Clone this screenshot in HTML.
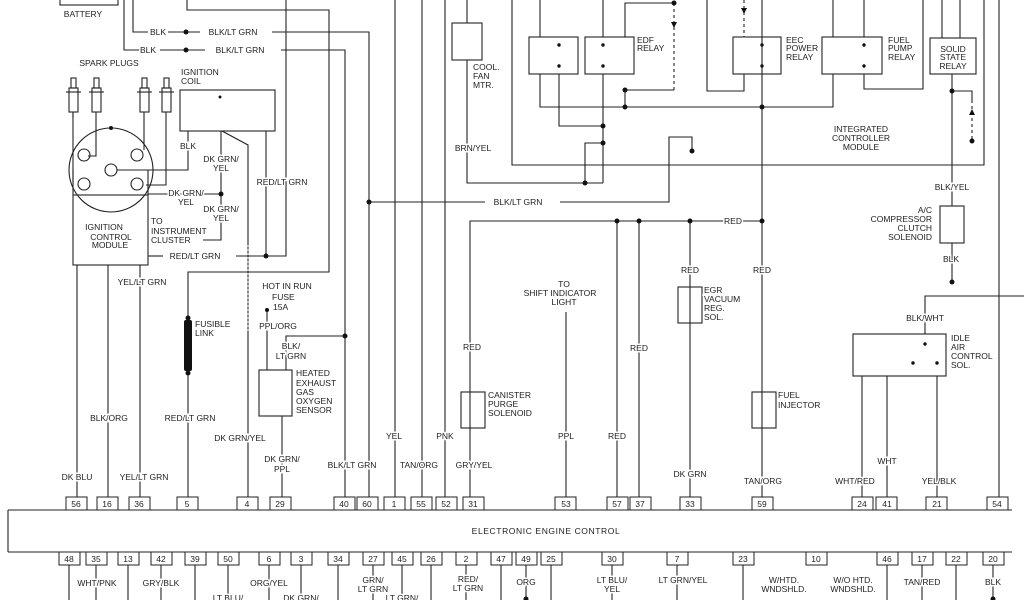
<!DOCTYPE html>
<html><head><meta charset="utf-8"><style>
html,body{margin:0;padding:0;background:#fff;width:1024px;height:600px;overflow:hidden}
svg{display:block}
text{font-family:"Liberation Sans",sans-serif;font-size:8.5px;fill:#222;stroke:#fff;stroke-width:3px;paint-order:stroke;text-anchor:middle}
.s{text-anchor:start}
.e{text-anchor:end}
</style></head><body>
<svg width="1024" height="600" viewBox="0 0 1024 600" xmlns="http://www.w3.org/2000/svg">
<g fill="none" stroke="#222" stroke-width="1.1">
<!-- battery -->
<rect x="60" y="-5" width="58" height="10"/>
<polyline points="133,0 133,32 148,32"/><polyline points="124,0 124,50 140,50"/>
<line x1="168" y1="32" x2="200" y2="32"/><polyline points="272,32 369,32 369,497"/>
<line x1="160" y1="50" x2="205" y2="50"/><polyline points="281,50 345,50 345,497"/>
<polyline points="187,0 187,10 329,10 329,272 188,272 188,497"/>
<polyline points="286,0 286,256 236,256"/><line x1="148" y1="256" x2="163" y2="256"/>
<!-- spark plugs -->
<line x1="73" y1="112" x2="73" y2="182"/><polyline points="96,118 96,156 88,156"/>
<polyline points="144,118 144,150"/><polyline points="166,118 166,185 146,185"/>
<circle cx="111" cy="170" r="42"/>
<circle cx="84" cy="155" r="6"/><circle cx="137" cy="155" r="6"/><circle cx="111" cy="170" r="6"/><circle cx="84" cy="184" r="6"/><circle cx="137" cy="184" r="6"/>
<rect x="73" y="195" width="75" height="70"/>
<line x1="73" y1="170" x2="73" y2="195"/><line x1="148" y1="170" x2="148" y2="195"/>
<!-- plugs -->
<g>
<rect x="69" y="88" width="9" height="24"/><rect x="92" y="88" width="9" height="24"/><rect x="140" y="88" width="9" height="24"/><rect x="162" y="88" width="9" height="24"/>
<line x1="66" y1="92" x2="81" y2="92"/><line x1="89" y1="92" x2="104" y2="92"/><line x1="137" y1="92" x2="152" y2="92"/><line x1="159" y1="92" x2="174" y2="92"/>
<rect x="71" y="78" width="5" height="10"/><rect x="94" y="78" width="5" height="10"/><rect x="142" y="78" width="5" height="10"/><rect x="164" y="78" width="5" height="10"/>
<line x1="73" y1="112" x2="73" y2="118"/><line x1="96" y1="112" x2="96" y2="118"/><line x1="144" y1="112" x2="144" y2="118"/><line x1="166" y1="112" x2="166" y2="118"/>
</g>
<!-- coil -->
<rect x="180" y="90" width="95" height="41"/>
<polyline points="188,131 188,170 117,170"/>
<polyline points="221,131 221,240 203,240"/>
<polyline points="222,131 248,145 248,497"/>
<line x1="266" y1="131" x2="266" y2="256"/>
<line x1="148" y1="194" x2="221" y2="194"/>
<!-- ICM bottom wires -->
<line x1="77" y1="265" x2="77" y2="497"/><line x1="108" y1="265" x2="108" y2="497"/><line x1="140" y1="265" x2="140" y2="497"/>
<!-- fuse / sensor -->
<line x1="248" y1="245" x2="248" y2="332" stroke-dasharray="2,2" stroke="#aaa"/>
<line x1="267" y1="310" x2="267" y2="370"/>
<rect x="259" y="370" width="33" height="46"/>
<polyline points="286,370 286,336 345,336"/>
<line x1="282" y1="416" x2="282" y2="497"/>
<!-- middle verticals -->
<line x1="395" y1="0" x2="395" y2="497"/><line x1="422" y1="0" x2="422" y2="497"/><line x1="445" y1="0" x2="445" y2="497"/>
<polyline points="467,0 467,23"/><rect x="452" y="23" width="30" height="37"/>
<polyline points="467,60 467,183 603,183"/>
<polyline points="369,202 485,202"/><polyline points="560,202 669,202 669,137 692,137 692,151"/>
<polyline points="470,497 470,221 762,221"/>
<rect x="461" y="392" width="24" height="36"/>
<line x1="566" y1="312" x2="566" y2="497"/>
<line x1="617" y1="221" x2="617" y2="497"/><line x1="639" y1="221" x2="639" y2="497"/>
<line x1="690" y1="221" x2="690" y2="497"/><rect x="678" y="287" width="24" height="36"/>
<line x1="762" y1="0" x2="762" y2="497"/><rect x="752" y="392" width="24" height="36"/>
<!-- ICM -->
<polyline points="512,0 512,165 984,165 984,0"/>
<rect x="529" y="37" width="49" height="37"/><rect x="585" y="37" width="49" height="37"/>
<rect x="733" y="37" width="48" height="37"/><rect x="822" y="37" width="60" height="37"/>
<rect x="930" y="38" width="46" height="36"/>
<line x1="540" y1="0" x2="540" y2="37"/><line x1="603" y1="0" x2="603" y2="37"/>
<polyline points="625,37 625,3 674,3"/><line x1="674" y1="3" x2="674" y2="90" stroke-dasharray="3,3"/>
<polyline points="674,90 625,90"/>
<polyline points="540,74 540,107 833,107 833,74"/><line x1="625" y1="90" x2="625" y2="107"/>
<polyline points="559,74 559,126 603,126"/><line x1="603" y1="74" x2="603" y2="183"/>
<polyline points="585,183 585,143 603,143"/>
<polyline points="707,0 707,91 744,91 744,74"/><line x1="744" y1="0" x2="744" y2="37" stroke-dasharray="3,3"/>
<line x1="833" y1="0" x2="833" y2="37"/><line x1="864" y1="0" x2="864" y2="37"/>
<polyline points="864,74 864,89 923,89 923,0"/>
<line x1="942" y1="0" x2="942" y2="38"/><line x1="960" y1="0" x2="960" y2="38"/>
<polyline points="952,74 952,206"/><polyline points="952,91 972,91 972,100"/><line x1="972" y1="100" x2="972" y2="141" stroke-dasharray="3,3"/>
<rect x="940" y="206" width="24" height="37"/><line x1="952" y1="243" x2="952" y2="282"/>
<line x1="999" y1="0" x2="999" y2="497"/>
<polyline points="925,334 925,296 1024,296"/>
<rect x="853" y="334" width="93" height="42"/>
<line x1="862" y1="376" x2="862" y2="497"/><line x1="887" y1="376" x2="887" y2="497"/><line x1="937" y1="376" x2="937" y2="497"/>
<!-- ECC -->
<polyline points="8,510 1012,510"/><polyline points="8,552 1012,552"/><line x1="8" y1="510" x2="8" y2="552"/>
</g>
<g fill="#111">
<circle cx="186" cy="32" r="2.5"/><circle cx="186" cy="50" r="2.5"/><circle cx="266" cy="256" r="2.5"/><circle cx="221" cy="194" r="2.5"/>
<circle cx="111" cy="128" r="2"/><circle cx="369" cy="202" r="2.5"/><circle cx="345" cy="336" r="2.5"/><circle cx="267" cy="310" r="2"/>
<circle cx="617" cy="221" r="2.5"/><circle cx="639" cy="221" r="2.5"/><circle cx="690" cy="221" r="2.5"/><circle cx="762" cy="221" r="2.5"/>
<circle cx="674" cy="3" r="2.5"/><circle cx="625" cy="90" r="2.5"/><circle cx="625" cy="107" r="2.5"/><circle cx="762" cy="107" r="2.5"/>
<circle cx="603" cy="126" r="2.5"/><circle cx="603" cy="143" r="2.5"/><circle cx="585" cy="183" r="2.5"/><circle cx="692" cy="151" r="2.5"/>
<circle cx="952" cy="91" r="2.5"/><circle cx="972" cy="141" r="2.5"/><circle cx="952" cy="282" r="2.5"/>
<circle cx="188" cy="318" r="2.5"/><circle cx="188" cy="373" r="2.5"/><rect x="184" y="320" width="8" height="51" rx="2"/>
<circle cx="220" cy="97" r="1.5"/><circle cx="925" cy="344" r="1.7"/><circle cx="937" cy="363" r="1.7"/><circle cx="913" cy="363" r="1.7"/>
<circle cx="559" cy="45" r="1.7"/><circle cx="559" cy="66" r="1.7"/><circle cx="603" cy="45" r="1.7"/><circle cx="603" cy="66" r="1.7"/>
<circle cx="762" cy="45" r="1.7"/><circle cx="762" cy="66" r="1.7"/><circle cx="864" cy="45" r="1.7"/><circle cx="864" cy="66" r="1.7"/>
<polygon points="671,22 677,22 674,28"/><polygon points="741,8 747,8 744,14"/><polygon points="969,115 975,115 972,109"/>
</g>
<text x="83" y="17">BATTERY</text>
<text x="158" y="35">BLK</text><text x="233" y="35">BLK/LT GRN</text>
<text x="148" y="53">BLK</text><text x="240" y="53">BLK/LT GRN</text>
<text x="109" y="66">SPARK PLUGS</text>
<text class="s" x="181" y="75">IGNITION</text><text class="s" x="181" y="84">COIL</text>
<text x="188" y="149">BLK</text>
<text x="221" y="162">DK GRN/</text><text x="221" y="171">YEL</text>
<text x="186" y="196">DK GRN/</text><text x="186" y="205">YEL</text>
<text x="221" y="212">DK GRN/</text><text x="221" y="221">YEL</text>
<text class="s" x="151" y="224">TO</text><text class="s" x="151" y="234">INSTRUMENT</text><text class="s" x="151" y="243">CLUSTER</text>
<text x="104" y="230">IGNITION</text><text x="111" y="240">CONTROL</text><text x="110" y="248">MODULE</text>
<text x="195" y="259">RED/LT GRN</text><text x="282" y="185">RED/LT GRN</text>
<text x="142" y="285">YEL/LT GRN</text>
<text x="287" y="289">HOT IN RUN</text><text class="s" x="272" y="300">FUSE</text><text class="s" x="273" y="310">15A</text>
<text x="278" y="329">PPL/ORG</text><text x="291" y="349">BLK/</text><text x="291" y="359">LT GRN</text>
<text class="s" x="296" y="376">HEATED</text><text class="s" x="296" y="386">EXHAUST</text><text class="s" x="296" y="395">GAS</text><text class="s" x="296" y="404">OXYGEN</text><text class="s" x="296" y="413">SENSOR</text>
<text class="s" x="195" y="327">FUSIBLE</text><text class="s" x="195" y="336">LINK</text>
<text x="109" y="421">BLK/ORG</text><text x="190" y="421">RED/LT GRN</text>
<text x="240" y="441">DK GRN/YEL</text><text x="282" y="462">DK GRN/</text><text x="282" y="472">PPL</text>
<text x="77" y="480">DK BLU</text><text x="144" y="480">YEL/LT GRN</text>
<text x="352" y="468">BLK/LT GRN</text><text x="394" y="439">YEL</text><text x="419" y="468">TAN/ORG</text><text x="445" y="439">PNK</text><text x="474" y="468">GRY/YEL</text>
<text class="s" x="473" y="70">COOL.</text><text class="s" x="473" y="79">FAN</text><text class="s" x="473" y="88">MTR.</text>
<text x="473" y="151">BRN/YEL</text>
<text x="518" y="205">BLK/LT GRN</text>
<text x="733" y="224">RED</text><text x="472" y="350">RED</text>
<text class="s" x="488" y="398">CANISTER</text><text class="s" x="488" y="407">PURGE</text><text class="s" x="488" y="416">SOLENOID</text>
<text x="564" y="287">TO</text><text x="560" y="296">SHIFT INDICATOR</text><text x="564" y="305">LIGHT</text>
<text x="566" y="439">PPL</text><text x="617" y="439">RED</text><text x="639" y="351">RED</text>
<text x="690" y="273">RED</text><text x="762" y="273">RED</text>
<text class="s" x="704" y="293">EGR</text><text class="s" x="704" y="302">VACUUM</text><text class="s" x="704" y="311">REG.</text><text class="s" x="704" y="320">SOL.</text>
<text x="690" y="477">DK GRN</text><text class="s" x="778" y="398">FUEL</text><text class="s" x="778" y="408">INJECTOR</text>
<text x="763" y="484">TAN/ORG</text>
<text class="s" x="637" y="43">EDF</text><text class="s" x="637" y="51">RELAY</text>
<text class="s" x="786" y="43">EEC</text><text class="s" x="786" y="51">POWER</text><text class="s" x="786" y="60">RELAY</text>
<text class="s" x="888" y="43">FUEL</text><text class="s" x="888" y="51">PUMP</text><text class="s" x="888" y="60">RELAY</text>
<text x="953" y="52">SOLID</text><text x="953" y="60">STATE</text><text x="953" y="69">RELAY</text>
<text x="861" y="132">INTEGRATED</text><text x="861" y="141">CONTROLLER</text><text x="861" y="150">MODULE</text>
<text x="952" y="190">BLK/YEL</text>
<text class="e" x="932" y="213">A/C</text><text class="e" x="932" y="222">COMPRESSOR</text><text class="e" x="932" y="231">CLUTCH</text><text class="e" x="932" y="240">SOLENOID</text>
<text x="951" y="262">BLK</text><text x="925" y="321">BLK/WHT</text>
<text class="s" x="951" y="341">IDLE</text><text class="s" x="951" y="350">AIR</text><text class="s" x="951" y="359">CONTROL</text><text class="s" x="951" y="368">SOL.</text>
<text x="855" y="484">WHT/RED</text><text x="887" y="464">WHT</text><text x="939" y="484">YEL/BLK</text>
<text x="546" y="534" style="letter-spacing:0.6px">ELECTRONIC ENGINE CONTROL</text>
<g fill="#fff" stroke="#222" stroke-width="1">
<rect x="66" y="497" width="21" height="13"/><rect x="97" y="497" width="21" height="13"/><rect x="129" y="497" width="21" height="13"/><rect x="177" y="497" width="21" height="13"/><rect x="237" y="497" width="21" height="13"/><rect x="270" y="497" width="21" height="13"/><rect x="334" y="497" width="21" height="13"/><rect x="357" y="497" width="21" height="13"/><rect x="384" y="497" width="21" height="13"/><rect x="411" y="497" width="21" height="13"/><rect x="436" y="497" width="21" height="13"/><rect x="463" y="497" width="21" height="13"/><rect x="555" y="497" width="21" height="13"/><rect x="607" y="497" width="21" height="13"/><rect x="630" y="497" width="21" height="13"/><rect x="680" y="497" width="21" height="13"/><rect x="752" y="497" width="21" height="13"/><rect x="852" y="497" width="21" height="13"/><rect x="876" y="497" width="21" height="13"/><rect x="926" y="497" width="21" height="13"/><rect x="987" y="497" width="21" height="13"/>
<rect x="59" y="552" width="21" height="13"/><rect x="86" y="552" width="21" height="13"/><rect x="118" y="552" width="21" height="13"/><rect x="151" y="552" width="21" height="13"/><rect x="185" y="552" width="21" height="13"/><rect x="218" y="552" width="21" height="13"/><rect x="259" y="552" width="21" height="13"/><rect x="291" y="552" width="21" height="13"/><rect x="328" y="552" width="21" height="13"/><rect x="363" y="552" width="21" height="13"/><rect x="392" y="552" width="21" height="13"/><rect x="421" y="552" width="21" height="13"/><rect x="456" y="552" width="21" height="13"/><rect x="491" y="552" width="21" height="13"/><rect x="516" y="552" width="21" height="13"/><rect x="541" y="552" width="21" height="13"/><rect x="602" y="552" width="21" height="13"/><rect x="667" y="552" width="21" height="13"/><rect x="733" y="552" width="21" height="13"/><rect x="806" y="552" width="21" height="13"/><rect x="877" y="552" width="21" height="13"/><rect x="912" y="552" width="21" height="13"/><rect x="946" y="552" width="21" height="13"/><rect x="983" y="552" width="21" height="13"/>
</g>
<g style="stroke:none">
<text x="76" y="507">56</text><text x="107" y="507">16</text><text x="139" y="507">36</text><text x="187" y="507">5</text><text x="247" y="507">4</text><text x="280" y="507">29</text><text x="344" y="507">40</text><text x="367" y="507">60</text><text x="394" y="507">1</text><text x="421" y="507">55</text><text x="446" y="507">52</text><text x="473" y="507">31</text><text x="566" y="507">53</text><text x="617" y="507">57</text><text x="640" y="507">37</text><text x="690" y="507">33</text><text x="762" y="507">59</text><text x="862" y="507">24</text><text x="887" y="507">41</text><text x="937" y="507">21</text><text x="997" y="507">54</text>
<text x="69" y="562">48</text><text x="96" y="562">35</text><text x="128" y="562">13</text><text x="161" y="562">42</text><text x="195" y="562">39</text><text x="228" y="562">50</text><text x="269" y="562">6</text><text x="301" y="562">3</text><text x="338" y="562">34</text><text x="373" y="562">27</text><text x="402" y="562">45</text><text x="431" y="562">26</text><text x="466" y="562">2</text><text x="501" y="562">47</text><text x="526" y="562">49</text><text x="551" y="562">25</text><text x="612" y="562">30</text><text x="677" y="562">7</text><text x="743" y="562">23</text><text x="816" y="562">10</text><text x="887" y="562">46</text><text x="922" y="562">17</text><text x="956" y="562">22</text><text x="993" y="562">20</text>
</g>
<g stroke="#222" stroke-width="1.1">
<line x1="69" y1="565" x2="69" y2="600"/><line x1="96" y1="565" x2="96" y2="600"/><line x1="128" y1="565" x2="128" y2="600"/><line x1="161" y1="565" x2="161" y2="600"/><line x1="195" y1="565" x2="195" y2="600"/><line x1="228" y1="565" x2="228" y2="600"/><line x1="269" y1="565" x2="269" y2="600"/><line x1="301" y1="565" x2="301" y2="600"/><line x1="338" y1="565" x2="338" y2="600"/><line x1="373" y1="565" x2="373" y2="600"/><line x1="402" y1="565" x2="402" y2="600"/><line x1="431" y1="565" x2="431" y2="600"/><line x1="466" y1="565" x2="466" y2="600"/><line x1="501" y1="565" x2="501" y2="600"/><line x1="526" y1="565" x2="526" y2="600"/><line x1="551" y1="565" x2="551" y2="600"/><line x1="612" y1="565" x2="612" y2="600"/><line x1="677" y1="565" x2="677" y2="600"/><line x1="743" y1="565" x2="743" y2="600"/><line x1="887" y1="565" x2="887" y2="600"/><line x1="922" y1="565" x2="922" y2="600"/><line x1="956" y1="565" x2="956" y2="600"/><line x1="993" y1="565" x2="993" y2="600"/>
</g>
<circle cx="526" cy="599" r="2.5" fill="#111"/><circle cx="993" cy="599" r="2.5" fill="#111"/>
<text x="97" y="586">WHT/PNK</text><text x="161" y="586">GRY/BLK</text><text x="269" y="586">ORG/YEL</text>
<text x="373" y="583">GRN/</text><text x="373" y="592">LT GRN</text>
<text x="468" y="582">RED/</text><text x="468" y="591">LT GRN</text>
<text x="526" y="585">ORG</text><text x="612" y="583">LT BLU/</text><text x="612" y="592">YEL</text>
<text x="683" y="583">LT GRN/YEL</text>
<text x="784" y="583">W/HTD.</text><text x="784" y="592">WNDSHLD.</text>
<text x="853" y="583">W/O HTD.</text><text x="853" y="592">WNDSHLD.</text>
<text x="922" y="585">TAN/RED</text><text x="993" y="585">BLK</text>
<text x="228" y="601">LT BLU/</text><text x="301" y="601">DK GRN/</text><text x="402" y="601">LT GRN/</text>
</svg>
</body></html>
